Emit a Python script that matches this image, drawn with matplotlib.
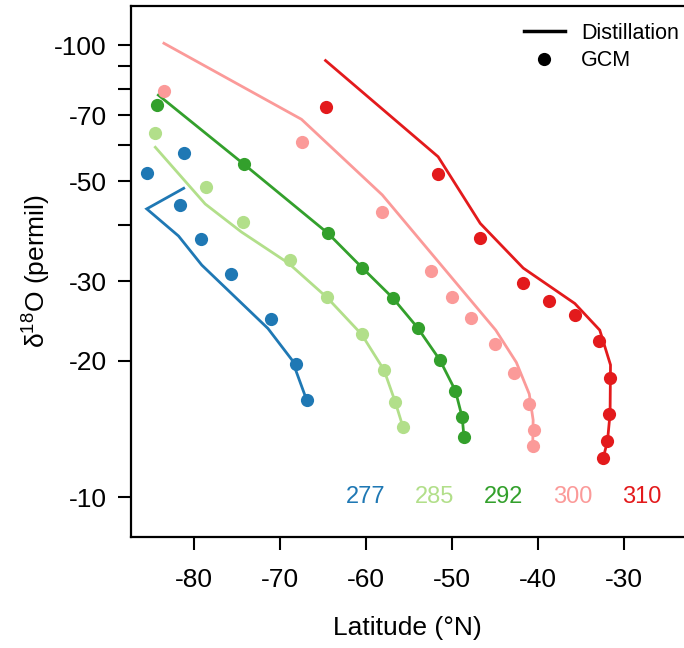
import matplotlib
matplotlib.use("Agg")
import matplotlib.pyplot as plt
from matplotlib.lines import Line2D
from matplotlib.ticker import FixedLocator, FixedFormatter, NullFormatter

plt.rcParams['font.family'] = ['Liberation Sans', 'DejaVu Sans']
plt.rcParams['mathtext.fontset'] = 'custom'
plt.rcParams['mathtext.rm'] = 'Liberation Sans'
plt.rcParams['mathtext.default'] = 'regular'

# magnitudes of d18O (plotted as -value on a log axis)
temps = ["277", "285", "292", "300", "310"]
colors = ["#1F78B4", "#B2DF8A", "#33A02C", "#FB9A99", "#E31A1C"]
label_lat = [-60.0, -52.0, -44.0, -35.9, -27.9]

# GCM points
gcm_lat_277 = [-85.5, -81.2, -81.6, -79.2, -75.7, -71.1, -68.1, -66.9]
gcm_val_277 = [52.1, 57.7, 44.3, 37.3, 31.1, 24.8, 19.7, 16.4]
gcm_lat_285 = [-84.5, -78.6, -74.3, -68.8, -64.5, -60.5, -57.9, -56.6, -55.7]
gcm_val_285 = [64.0, 48.6, 40.6, 33.4, 27.7, 22.9, 19.1, 16.25, 14.3]
gcm_lat_292 = [-84.3, -74.2, -64.4, -60.4, -56.9, -54.0, -51.4, -49.6, -48.8, -48.6]
gcm_val_292 = [73.7, 54.5, 38.3, 32.1, 27.6, 23.7, 20.1, 17.2, 15.0, 13.6]
gcm_lat_300 = [-83.5, -67.4, -58.1, -52.4, -50.0, -47.8, -45.0, -42.8, -41.0, -40.5, -40.6]
gcm_val_300 = [79.1, 61.1, 42.7, 31.6, 27.7, 24.9, 21.8, 18.8, 16.1, 14.1, 13.0]
gcm_lat_310 = [-64.65, -51.6, -46.7, -41.7, -38.7, -35.7, -32.9, -31.6, -31.7, -31.9, -32.4]
gcm_val_310 = [73.0, 51.8, 37.5, 29.8, 27.1, 25.3, 22.1, 18.3, 15.3, 13.3, 12.2]

# distillation model
dist_lat_277 = [-81.2, -85.5, -81.8, -79.1, -71.4, -68.6, -66.9]
dist_val_277 = [48.2, 43.4, 37.8, 32.6, 23.6, 20.1, 16.4]
dist_lat_285 = [-84.5, -78.7, -74.5, -69.0, -64.5, -60.5, -57.9, -56.6, -55.7]
dist_val_285 = [59.4, 44.5, 38.6, 32.9, 27.6, 22.9, 19.1, 16.25, 14.3]
dist_lat_292 = [-84.15, -74.2, -64.4, -60.4, -56.9, -54.0, -51.4, -49.6, -48.8, -48.6]
dist_val_292 = [77.5, 54.5, 38.3, 32.1, 27.6, 23.7, 20.1, 17.2, 15.0, 13.6]
dist_lat_300 = [-83.5, -67.5, -58.1, -44.9, -42.5, -41.0, -40.55, -40.6]
dist_val_300 = [100.9, 68.5, 46.6, 23.4, 19.85, 16.9, 14.8, 13.0]
dist_lat_310 = [-64.7, -51.6, -46.7, -41.7, -35.7, -32.8, -31.55, -31.6, -31.9, -32.4]
dist_val_310 = [92.4, 56.6, 40.3, 32.1, 26.8, 23.4, 19.6, 15.3, 13.3, 12.2]

gcm = [(gcm_lat_277, gcm_val_277), (gcm_lat_285, gcm_val_285), (gcm_lat_292, gcm_val_292),
       (gcm_lat_300, gcm_val_300), (gcm_lat_310, gcm_val_310)]
dist = [(dist_lat_277, dist_val_277), (dist_lat_285, dist_val_285), (dist_lat_292, dist_val_292),
        (dist_lat_300, dist_val_300), (dist_lat_310, dist_val_310)]

fig = plt.figure(figsize=(6.84, 6.48), dpi=100)
ax = fig.add_axes([131 / 684, 111 / 648, 1 - 131 / 684, 531 / 648])

for (dl, dv), (gl, gv), c in zip(dist, gcm, colors):
    ax.plot(dl, dv, color=c, lw=2, solid_joinstyle='miter')
    ax.plot(gl, gv, 'o', color=c, ms=9.5, mew=0)

for t, x, c in zip(temps, label_lat, colors):
    ax.text(x, 10, t, color=c, fontsize=17, ha='center', va='center')

ax.set_yscale('log')
ax.set_xlim(-87.33, -23.0)
ax.set_ylim(8.157, 122.0)

yt = [10, 20, 30, 50, 70, 100]
ax.yaxis.set_major_locator(FixedLocator(yt))
ax.yaxis.set_major_formatter(FixedFormatter(["-%d" % v for v in yt]))
ax.yaxis.set_minor_locator(FixedLocator([40, 60, 80, 90]))
ax.yaxis.set_minor_formatter(NullFormatter())
ax.set_xticks([-80, -70, -60, -50, -40, -30])
ax.set_xticklabels(["-80", "-70", "-60", "-50", "-40", "-30"])

ax.tick_params(which='both', length=9.5, width=1.5, labelsize=19)
ax.tick_params(axis='y', which='both', pad=8)
ax.tick_params(axis='x', pad=13)
for s in ['left', 'bottom', 'top']:
    ax.spines[s].set_linewidth(1.6)
ax.spines['right'].set_visible(False)

ax.set_xlabel("Latitude (°N)", fontsize=19, labelpad=17)
ax.set_ylabel("δ$^{18}$O (permil)", fontsize=19, labelpad=1)

handles = [Line2D([], [], color='black', lw=2.5),
           Line2D([], [], color='black', marker='o', ls='none', ms=9.5, mew=0)]
ax.legend(handles, ["Distillation", "GCM"], loc='upper left', frameon=False,
          bbox_to_anchor=(524 / 684, 625 / 648), bbox_transform=fig.transFigure,
          borderpad=0, borderaxespad=0, fontsize=15.5, handlelength=1.9,
          handletextpad=0.75, labelspacing=0.3)

fig.savefig("out.png", dpi=100)
